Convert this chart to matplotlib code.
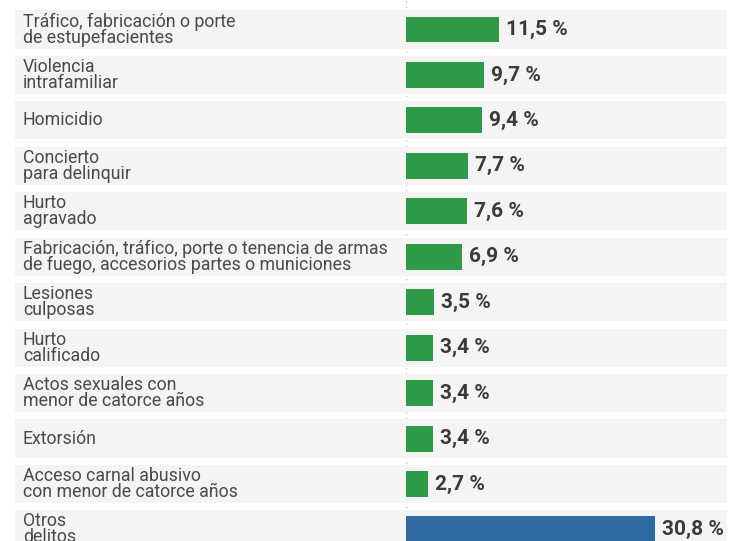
import matplotlib
matplotlib.use("Agg")
import matplotlib.pyplot as plt
from matplotlib import font_manager

# delitos y porcentajes
categorias = [
    "Tráfico, fabricación o porte\nde estupefacientes",
    "Violencia\nintrafamiliar",
    "Homicidio",
    "Concierto\npara delinquir",
    "Hurto\nagravado",
    "Fabricación, tráfico, porte o tenencia de armas\nde fuego, accesorios partes o municiones",
    "Lesiones\nculposas",
    "Hurto\ncalificado",
    "Actos sexuales con\nmenor de catorce años",
    "Extorsión",
    "Acceso carnal abusivo\ncon menor de catorce años",
    "Otros\ndelitos",
]
porcentajes = [11.5, 9.7, 9.4, 7.7, 7.6, 6.9, 3.5, 3.4, 3.4, 3.4, 2.7, 30.8]
etiquetas = ["11,5 %", "9,7 %", "9,4 %", "7,7 %", "7,6 %", "6,9 %",
             "3,5 %", "3,4 %", "3,4 %", "3,4 %", "2,7 %", "30,8 %"]

VERDE = "#2e9a45"
AZUL = "#2f69a4"
colores = [VERDE] * 11 + [AZUL]

names = {f.name for f in font_manager.fontManager.ttflist}
narrow = "Liberation Sans Narrow" if "Liberation Sans Narrow" in names else "Roboto"

W, H = 735, 541
x0 = 406.0      # pixel where bars start
px_pct = 8.08   # pixels per percent
y0 = 29.5       # centre of first row
row = 45.45     # row spacing in pixels

fig = plt.figure(figsize=(W / 100, H / 100), dpi=100)
ax = fig.add_axes([0, 0, 1, 1])
ax.set_xlim(-x0 / px_pct, (W - x0) / px_pct)
ax.set_ylim((H - y0) / row, -y0 / row)
ax.axis("off")

n = len(categorias)
ax.axvline(0, color="#c4c4c4", lw=1, ls=(0, (1, 3)), zorder=0)
for i in range(n):
    ax.axhspan(i - 0.42, i + 0.42, xmin=15 / W, xmax=727 / W,
               color="#f4f4f4", lw=0, zorder=1)

ax.barh(range(n), porcentajes, height=0.57, color=colores, zorder=2)

for i, (cat, v, lab) in enumerate(zip(categorias, porcentajes, etiquetas)):
    ax.text(-(x0 - 23) / px_pct, i, cat, ha="left", va="center",
            fontsize=12.8, color="#4a4a4a", linespacing=0.85,
            family=["Roboto", "DejaVu Sans"])
    ax.text(v + 7 / px_pct, i, lab, ha="left", va="center",
            fontsize=15, fontweight="bold", color="#3a3a3a",
            family=[narrow, "DejaVu Sans"])

fig.savefig("out.png", dpi=100)
